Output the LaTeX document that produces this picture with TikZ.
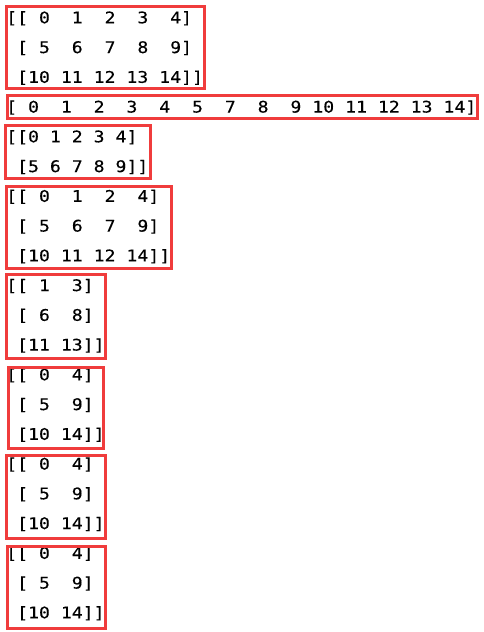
\documentclass[tikz,border=0pt]{standalone}
\usepackage{fontspec}
\usepackage{xcolor}
\newfontfamily\codefont[FakeStretch=1.135,FakeBold=0.2,WordSpace={1,0,0}]{DejaVu Sans Mono}
\definecolor{boxred}{RGB}{240,60,60}
\tikzset{
  codeline/.style={anchor=base west, inner sep=0pt, text=black,
    font=\codefont\fontsize{16}{16}\selectfont},
  redbox/.style={draw=boxred, line width=3pt}
}

\begin{document}
\begin{tikzpicture}[x=1pt,y=-1pt]
\useasboundingbox (0,0) rectangle (484,632);
\fill[white] (0,0) rectangle (484,632);
% Printed arrays
% Line 1-3: full 3x5 array
\node[codeline] (l1) at (6,23.3) {[[~0~~1~~2~~3~~4]};
\node[codeline] (l2) at (6,53.05) {~[~5~~6~~7~~8~~9]};
\node[codeline] (l3) at (6,82.8) {~[10~11~12~13~14]]};
% Line 4: flat array
\node[codeline] (l4) at (6,112.55) {[~0~~1~~2~~3~~4~~5~~7~~8~~9~10~11~12~13~14]};
% Line 5-6: first two rows
\node[codeline] (l5) at (6,142.3) {[[0~1~2~3~4]};
\node[codeline] (l6) at (6,172.05) {~[5~6~7~8~9]]};
% Line 7-9: columns 0 1 2 4
\node[codeline] (l7) at (6,201.8) {[[~0~~1~~2~~4]};
\node[codeline] (l8) at (6,231.55) {~[~5~~6~~7~~9]};
\node[codeline] (l9) at (6,261.3) {~[10~11~12~14]]};
% Line 10-12: columns 1 3
\node[codeline] (l10) at (6,291.05) {[[~1~~3]};
\node[codeline] (l11) at (6,320.8) {~[~6~~8]};
\node[codeline] (l12) at (6,350.55) {~[11~13]]};
% Line 13-15: columns 0 4
\node[codeline] (l13) at (6,380.3) {[[~0~~4]};
\node[codeline] (l14) at (6,410.05) {~[~5~~9]};
\node[codeline] (l15) at (6,439.8) {~[10~14]]};
% Line 16-18: columns 0 4
\node[codeline] (l16) at (6,469.55) {[[~0~~4]};
\node[codeline] (l17) at (6,499.3) {~[~5~~9]};
\node[codeline] (l18) at (6,529.05) {~[10~14]]};
% Line 19-21: columns 0 4
\node[codeline] (l19) at (6,558.8) {[[~0~~4]};
\node[codeline] (l20) at (6,588.55) {~[~5~~9]};
\node[codeline] (l21) at (6,618.3) {~[10~14]]};
% Done with text; drawing boxes
\draw[redbox] (6.5,6.7) rectangle (204.2,88.7);
\draw[redbox] (7.6,95.5) rectangle (477,118);
\draw[redbox] (5.3,125.7) rectangle (150,178);
\draw[redbox] (6.7,186.3) rectangle (171.3,268.7);
\draw[redbox] (6.7,274.7) rectangle (105.3,358.7);
\draw[redbox] (8,367.3) rectangle (103,448.7);
\draw[redbox] (6.7,455.7) rectangle (105.3,538.7);
\draw[redbox] (7.3,546.3) rectangle (105.3,628);
% Done with boxes
\end{tikzpicture}
\end{document}
